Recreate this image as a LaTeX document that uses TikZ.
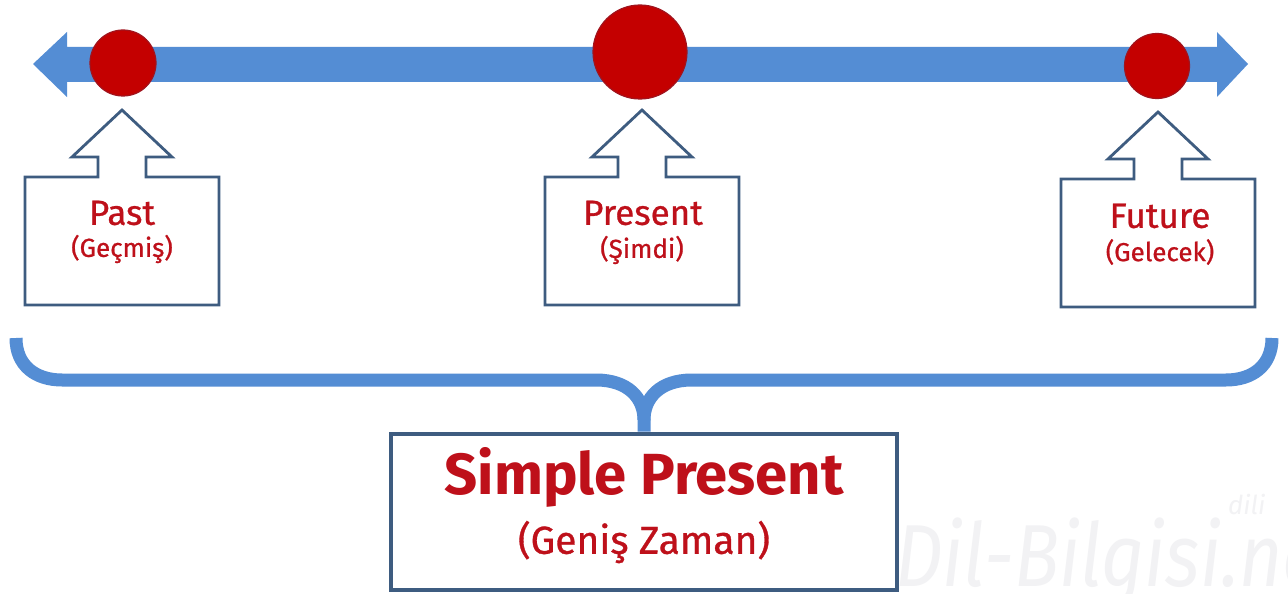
\documentclass[tikz,border=0pt]{standalone}
\usepackage{fontspec}
\setmainfont{Fira Sans}
\newfontfamily\medfont[FakeBold=0.8]{Fira Sans}
\definecolor{lineblue}{RGB}{84,141,212}
\definecolor{dotred}{RGB}{196,0,0}
\definecolor{dotedge}{RGB}{160,20,30}
\definecolor{txtred}{RGB}{190,16,26}
\definecolor{slate}{RGB}{62,92,128}
\definecolor{wm}{RGB}{242,242,244}
\tikzset{
  dot/.style={circle, fill=dotred, draw=dotedge, line width=1.2pt, inner sep=0pt},
  lbl/.style={text=txtred, font=\medfont\fontsize{35}{38}\selectfont, inner sep=0pt},
  sublbl/.style={text=txtred, font=\medfont\fontsize{26}{29}\selectfont, inner sep=0pt},
  callout/.pic={
    \draw[slate, line width=2.8pt, fill=white, line join=miter]
      (0,0) -- (50,47) -- (24,47) -- (24,67) -- (97,67) -- (97,195)
      -- (-97,195) -- (-97,67) -- (-24,67) -- (-24,47) -- (-50,47) -- cycle;
  },
  bracepath/.style={draw=lineblue, line width=13pt, line cap=butt}
}
\begin{document}
\begin{tikzpicture}[x=1pt,y=-1pt]
\useasboundingbox (0,0) rectangle (1288,594);
\fill[white] (0,0) rectangle (1288,594);

% watermark
\node[anchor=south west, text=wm, font=\fontsize{88}{90}\selectfont\itshape, inner sep=0pt, xscale=0.85] (wmark) at (895,606) {Dil-Bilgisi.net};
\node[anchor=south west, text=wm, font=\fontsize{26}{28}\selectfont\itshape, inner sep=0pt] (wmark2) at (1228,515) {dili};

% time line: double arrow
\fill[lineblue] (33,64) -- (67,32) -- (67,47) -- (1217,47) -- (1217,32) -- (1248,64)
  -- (1217,97) -- (1217,82) -- (67,82) -- (67,97) -- cycle;

% dots
\node[dot, minimum size=66pt] (past) at (123,63) {};
\node[dot, minimum size=94pt] (present) at (640,52) {};
\node[dot, minimum size=65pt] (future) at (1157,66) {};

% callouts
\pic at (122,110) {callout};
\pic at (642,110) {callout};
\pic at (1158,112) {callout};

\node[lbl] (pastlbl) at (122,213) {Past};
\node[sublbl] (pastsub) at (122,249) {(Geçmiş)};
\node[lbl] (preslbl) at (643,213) {Present};
\node[sublbl] (pressub) at (642,250) {(Şimdi)};
\node[lbl] (futlbl) at (1160,216) {Future};
\node[sublbl] (futsub) at (1160,252) {(Gelecek)};

% bottom box
\node[draw=slate, line width=4pt, fill=white, minimum width=506pt, minimum height=156pt, inner sep=0pt] (sp) at (644,511.5) {};
\node[text=txtred, font=\fontsize{58}{60}\selectfont\bfseries, inner sep=0pt] (sptitle) at (644,477) {Simple Present};
\node[text=txtred, font=\medfont\fontsize{39}{42}\selectfont, inner sep=0pt] (spsub) at (644,542) {(Geniş Zaman)};

% brace
\coordinate (bl) at (16,338);
\coordinate (br) at (1272,338);
\draw[bracepath] (bl) .. controls (16,366) and (36,380) .. (62,380) -- (596,380)
  .. controls (628,380) and (644,398) .. (644,420) -- (sp.north);
\draw[bracepath] (br) .. controls (1272,366) and (1252,380) .. (1226,380) -- (692,380)
  .. controls (660,380) and (644,398) .. (644,420);
\end{tikzpicture}
\end{document}
